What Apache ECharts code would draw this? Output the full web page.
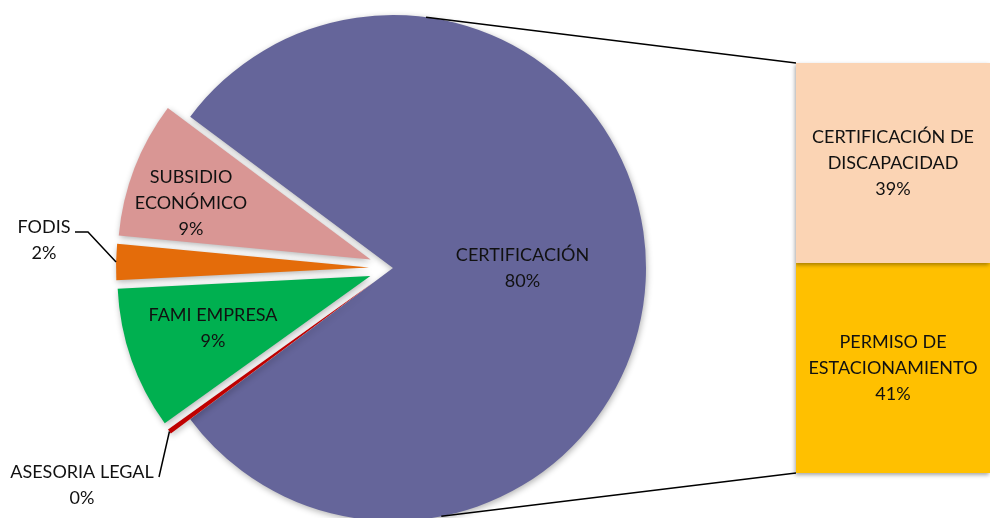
<!DOCTYPE html>
<html lang="es">
<head>
<meta charset="utf-8">
<title>Trámites</title>
<script src="https://cdn.jsdelivr.net/npm/echarts@6/dist/echarts.min.js"></script>
<style>
html, body { margin: 0; background: #fff; }
#chart { width: 990px; height: 518px; }
</style>
</head>
<body>
<div id="chart"></div>
<script>
// pie (main) data, clockwise starting with the big slice
var pieNames = ['CERTIFICACIÓN', 'ASESORIA LEGAL', 'FAMI EMPRESA', 'FODIS', 'SUBSIDIO\nECONÓMICO'];
var pieValues = [79.6, 0.3, 9.1, 2.3, 8.7];
var pieColors = ['#65659a', '#c00000', '#00b050', '#e46c0a', '#d99694'];

// stacked bar breaking down CERTIFICACIÓN (bottom first)
var barNames = ['PERMISO DE\nESTACIONAMIENTO', 'CERTIFICACIÓN DE\nDISCAPACIDAD'];
var barValues = [41, 39];
var barColors = ['#ffc000', '#fbd4b4'];

var font = 'Lato, "Open Sans", sans-serif';
var cx = 393, cy = 268, R = 253, explode = 24;

var total = pieValues.reduce(function (a, b) { return a + b; }, 0);
var startAngle = 180 * pieValues[0] / total;

// mid angle (degrees, math orientation) of every slice
var midAngles = [];
(function () {
    var acc = 0;
    pieValues.forEach(function (v) {
        midAngles.push(startAngle - (acc + v / 2) * 360 / total);
        acc += v;
    });
})();

// point on the outer edge of an exploded slice, at its bisector
function edgePoint(i) {
    var a = midAngles[i] * Math.PI / 180;
    var off = i > 0 ? explode : 0;
    return [cx + (off + R) * Math.cos(a), cy - (off + R) * Math.sin(a)];
}

// where the labels of the exploded slices go
var labelSpots = {
    1: { x: 82, y: 485 },
    2: { x: 213, y: 328 },
    3: { x: 44, y: 240 },
    4: { x: 191, y: 203 }
};
// bends of the two leader lines
var leaderBends = {
    1: [[159, 477], [159, 477]],
    3: [[88, 232], [75, 232]]
};

var labelText = {
    color: '#111',
    fontFamily: font,
    fontSize: 18,
    lineHeight: 26
};

var chart = echarts.init(document.getElementById('chart'), null, { renderer: 'canvas' });

var pieData = pieNames.map(function (n, i) {
    return {
        name: n,
        value: pieValues[i],
        selected: i > 0,
        itemStyle: { color: pieColors[i] }
    };
});

// transparent copy of the pie that only carries the labels
var labelData = pieNames.map(function (n, i) {
    var item = { name: n, value: pieValues[i] };
    if (leaderBends[i]) {
        item.label = { position: 'outside' };
        item.labelLine = { show: true, length: 20, length2: 10 };
    }
    return item;
});

var barSeries = barNames.map(function (n, i) {
    return {
        type: 'bar',
        name: n,
        stack: 'x',
        barWidth: '100%',
        data: [barValues[i]],
        itemStyle: {
            color: barColors[i],
            shadowColor: 'rgba(0,0,0,0.35)',
            shadowBlur: 4,
            shadowOffsetX: -1,
            shadowOffsetY: 2
        },
        label: Object.assign({
            show: true,
            position: 'inside',
            formatter: function (p) { return p.seriesName + '\n' + Math.round(p.value) + '%'; }
        }, labelText)
    };
});

chart.setOption({
    animation: false,
    backgroundColor: '#fff',
    grid: { left: 796, right: 0, top: 63, bottom: 45 },
    xAxis: { type: 'category', data: [''], show: false, boundaryGap: true },
    yAxis: { type: 'value', min: 0, max: 80, show: false },
    series: [{
        type: 'pie',
        center: [cx, cy],
        radius: R,
        startAngle: startAngle,
        clockwise: true,
        selectedMode: 'multiple',
        selectedOffset: explode,
        silent: true,
        itemStyle: {
            shadowColor: 'rgba(0,0,0,0.3)',
            shadowBlur: 6,
            shadowOffsetX: 1,
            shadowOffsetY: 2
        },
        label: { show: false },
        labelLine: { show: false },
        data: pieData
    }, {
        type: 'pie',
        center: [cx, cy],
        radius: R,
        startAngle: startAngle,
        clockwise: true,
        silent: true,
        avoidLabelOverlap: false,
        z: 5,
        itemStyle: { color: 'rgba(0,0,0,0)' },
        label: Object.assign({
            show: true,
            position: 'inside',
            align: 'center',
            formatter: function (p) { return p.name + '\n' + Math.round(p.value) + '%'; }
        }, labelText),
        labelLine: { show: false, lineStyle: { color: '#000', width: 1.5 } },
        labelLayout: function (p) {
            var s = labelSpots[p.dataIndex];
            if (!s) return {};
            var out = { x: s.x, y: s.y, align: 'center', verticalAlign: 'middle' };
            if (leaderBends[p.dataIndex]) {
                out.labelLinePoints = [edgePoint(p.dataIndex)].concat(leaderBends[p.dataIndex]);
            }
            return out;
        },
        data: labelData
    }].concat(barSeries)
});

// connector lines from the big slice to the bar edges
var topCorner = chart.convertToPixel({ gridIndex: 0 }, [0, 80]);
var botCorner = chart.convertToPixel({ gridIndex: 0 }, [0, 0]);
var barLeft = 796;
function onCircle(deg) {
    var a = deg * Math.PI / 180;
    return [cx + R * Math.cos(a), cy - R * Math.sin(a)];
}
var p1 = onCircle(82.5), p2 = onCircle(-79);
chart.setOption({
    graphic: [
        { type: 'line', shape: { x1: p1[0], y1: p1[1], x2: barLeft, y2: topCorner[1] }, style: { stroke: '#000', lineWidth: 1.5 }, z: 10 },
        { type: 'line', shape: { x1: p2[0], y1: p2[1], x2: barLeft, y2: botCorner[1] }, style: { stroke: '#000', lineWidth: 1.5 }, z: 10 }
    ]
});
</script>
</body>
</html>
